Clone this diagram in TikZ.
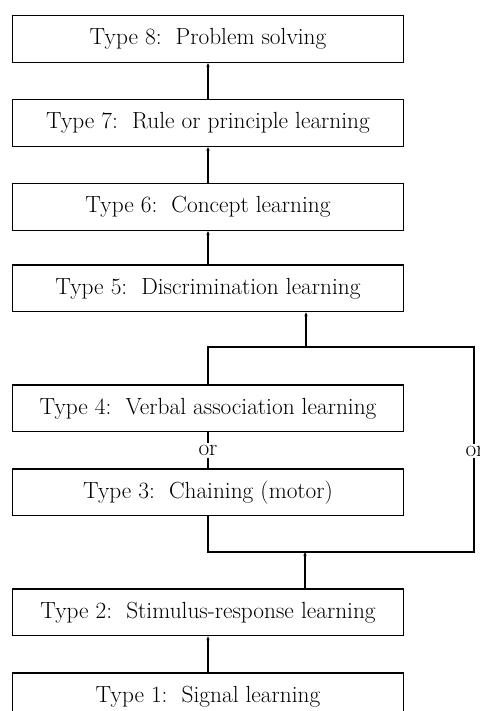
\documentclass[tikz,border=0pt]{standalone}
\usepackage{tikz}
\usetikzlibrary{arrows.meta, positioning, calc}

\begin{document}
\begin{tikzpicture}[
                x=0.75pt, y=-0.75pt,
                node distance=27pt,
                typebox/.style={rectangle, draw, line width=1pt, minimum width=293pt, minimum height=35pt, inner sep=0pt, font=\fontsize{17.5}{21}\selectfont},
                orlabel/.style={fill=white, inner sep=1.5pt, font=\fontsize{17.5}{21}\selectfont},
                link/.style={line width=1pt, -{Stealth[length=3pt, width=2.5pt]}}
            ]
                \useasboundingbox (0,0) rectangle (479,711);

                % Hierarchy boxes
                \node[typebox] (T8) at (208,39) {Type 8:\ \ Problem solving};
                \node[typebox, below=of T8] (T7) {Type 7:\ \ Rule or principle learning};
                \node[typebox, below=of T7] (T6) {Type 6:\ \ Concept learning};
                \node[typebox, below=25pt of T6] (T5) {Type 5:\ \ Discrimination learning};
                \node[typebox, below=54pt of T5] (T4) {Type 4:\ \ Verbal association learning};
                \node[typebox, below=of T4] (T3) {Type 3:\ \ Chaining (motor)};
                \node[typebox, below=54pt of T3] (T2) {Type 2:\ \ Stimulus-response learning};
                \node[typebox, below=of T2] (T1) {Type 1:\ \ Signal learning};

                % Branch points
                \coordinate (hubU) at (306,347);
                \coordinate (farU) at (474,347);
                \coordinate (hubL) at (305,552);
                \coordinate (farL) at (474,552);

                % Edges
                \draw[link] (T7.north) -- (T8.south);
                \draw[link] (T6.north) -- (T7.south);
                \draw[link] (T5.north -| T6.south) -- (T6.south);
                \draw[link] (hubU) -- (hubU |- T5.south);
                \draw[line width=1pt] (T4.north) |- (farU) -- (farL) -| (T3.south);
                \draw[line width=1pt] (T3.north) -- (T4.south);
                \draw[link] (hubL |- T2.north) -- (hubL);
                \draw[link] (T1.north -| T2.south) -- (T2.south);

                % Alternatives
                \node[orlabel] (or1) at ($(T4.south)!0.5!(T3.north)$) {or};
                \node[orlabel] (or2) at (475,451) {or};
            \end{tikzpicture}
\end{document}
